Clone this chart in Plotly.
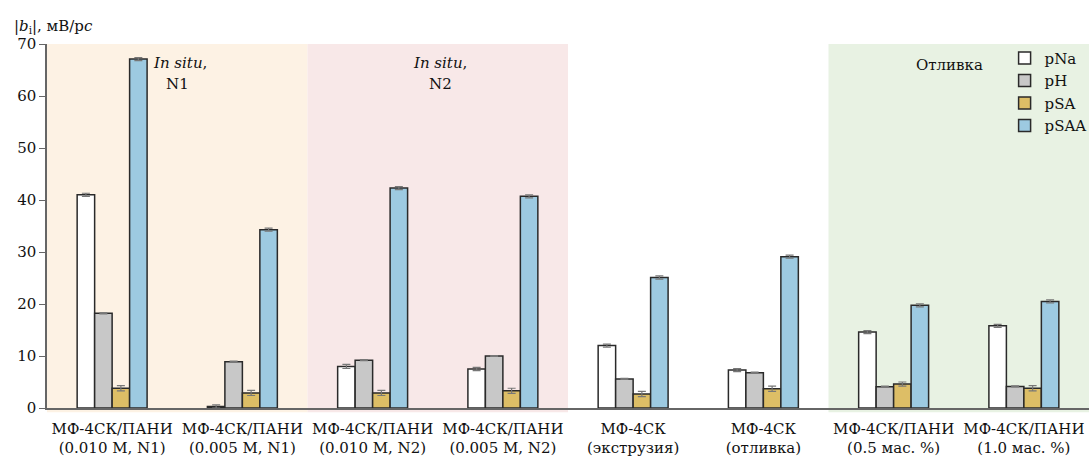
import plotly.graph_objects as go

# Membrane samples (x categories)
categories = [
    "МФ-4СК/ПАНИ<br>(0.010 M, N1)",
    "МФ-4СК/ПАНИ<br>(0.005 M, N1)",
    "МФ-4СК/ПАНИ<br>(0.010 M, N2)",
    "МФ-4СК/ПАНИ<br>(0.005 M, N2)",
    "МФ-4СК<br>(экструзия)",
    "МФ-4СК<br>(отливка)",
    "МФ-4СК/ПАНИ<br>(0.5 мас. %)",
    "МФ-4СК/ПАНИ<br>(1.0 мас. %)",
]

# Sensitivity |b_i|, mV/pc, for each ion
pNa = [41.0, 0.3, 8.0, 7.5, 12.0, 7.3, 14.6, 15.8]
pH = [18.2, 8.9, 9.2, 10.0, 5.6, 6.8, 4.1, 4.15]
pSA = [3.8, 2.9, 2.9, 3.3, 2.7, 3.7, 4.6, 3.8]
pSAA = [67.1, 34.3, 42.3, 40.7, 25.1, 29.1, 19.75, 20.5]

# Standard deviations
pNa_err = [0.3, 0.3, 0.4, 0.3, 0.3, 0.3, 0.3, 0.3]
pH_err = [0.1, 0.1, 0.1, 0.1, 0.1, 0.1, 0.1, 0.1]
pSA_err = [0.5, 0.5, 0.5, 0.5, 0.5, 0.5, 0.4, 0.5]
pSAA_err = [0.3, 0.3, 0.3, 0.3, 0.3, 0.3, 0.3, 0.3]

series = [
    ("pNa", pNa, pNa_err, "#FFFFFF"),
    ("pH", pH, pH_err, "#C8C8C8"),
    ("pSA", pSA, pSA_err, "#DDBE66"),
    ("pSAA", pSAA, pSAA_err, "#9DCAE1"),
]

FONT = "DejaVu Serif"

fig = go.Figure()
for name, vals, errs, color in series:
    fig.add_trace(go.Bar(
        x=categories, y=vals, name=name,
        marker=dict(color=color, line=dict(color="#2a2a2a", width=1.5)),
        error_y=dict(type="data", array=errs, color="#777777",
                     thickness=1.2, width=4),
    ))

# Background bands for the sample groups
bands = [(0.0, 0.25, "#FDF2E4"), (0.25, 0.5, "#F8E8E8"), (0.75, 1.0, "#E8F2E3")]
for x0, x1, c in bands:
    fig.add_shape(type="rect", xref="paper", yref="paper",
                  x0=x0, x1=x1, y0=-0.012, y1=1.0,
                  fillcolor=c, line=dict(width=0), layer="below")

annotations = [
    dict(x=0.1273, y=0.948, text="<i>In situ</i>,"),
    dict(x=0.1255, y=0.889, text="N1"),
    dict(x=0.3772, y=0.948, text="<i>In situ</i>,"),
    dict(x=0.3772, y=0.891, text="N2"),
    dict(x=0.8666, y=0.942, text="Отливка"),
]
for a in annotations:
    fig.add_annotation(xref="paper", yref="paper", showarrow=False,
                       font=dict(family=FONT, size=15, color="#111"),
                       xanchor="center", yanchor="middle", **a)

fig.add_annotation(xref="paper", yref="paper", x=-0.034, y=1.0,
                   xanchor="left", yanchor="bottom", yshift=6,
                   showarrow=False,
                   text="|<i>b</i><sub>i</sub>|, мВ/p<i>c</i>",
                   font=dict(family=FONT, size=15, color="#111"))

fig.update_layout(
    width=1091, height=459,
    margin=dict(l=47, r=2, t=44, b=51, autoexpand=False),
    paper_bgcolor="white", plot_bgcolor="rgba(0,0,0,0)",
    barmode="group", bargap=0.463, bargroupgap=0,
    font=dict(family=FONT, size=15, color="#111"),
    legend=dict(x=0.919, y=1.006, xanchor="left", yanchor="top",
                bgcolor="rgba(0,0,0,0)", font=dict(family=FONT, size=15),
                itemwidth=30, tracegroupgap=0),
    showlegend=True,
)
fig.update_xaxes(showline=True, linecolor="#666666", linewidth=1.5,
                 ticks="", showgrid=False, ticklabelstandoff=6,
                 tickfont=dict(family=FONT, size=15))
fig.update_yaxes(range=[0, 70], dtick=10, showline=True, linecolor="#666666",
                 linewidth=1.5, ticks="outside", ticklen=6, tickcolor="#666666",
                 showgrid=False, zeroline=False,
                 tickfont=dict(family=FONT, size=15))

fig.write_html("out.html")
